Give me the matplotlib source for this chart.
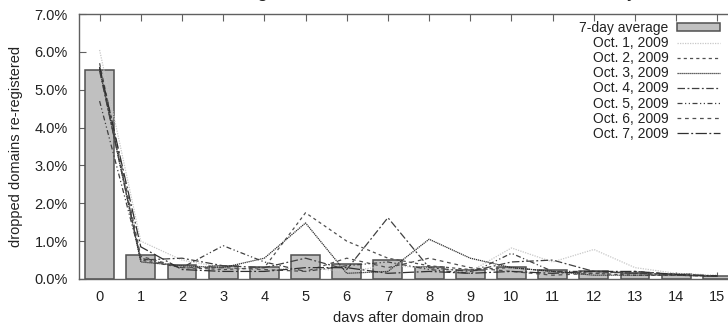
import numpy as np
import matplotlib.pyplot as plt
from matplotlib.ticker import FuncFormatter

plt.rcParams["font.family"] = ["Liberation Sans", "DejaVu Sans"]

# ------------------------------------------------------------
# DATA (percent of dropped domains re-registered, per day)
# ------------------------------------------------------------
days = list(range(16))
avg_7day = [5.53, 0.63, 0.36, 0.34, 0.31, 0.64, 0.40, 0.50,
            0.32, 0.24, 0.32, 0.24, 0.22, 0.17, 0.12, 0.08]

oct1 = [6.05, 1.00, 0.50, 0.30, 0.25, 0.30, 0.20, 0.35,
        0.30, 0.20, 0.82, 0.45, 0.78, 0.30, 0.15, 0.10]
oct2 = [5.60, 0.50, 0.30, 0.25, 0.30, 1.75, 1.00, 0.55,
        0.35, 0.25, 0.30, 0.20, 0.15, 0.10, 0.10, 0.08]
oct3 = [5.55, 0.45, 0.35, 0.30, 0.55, 1.48, 0.15, 0.20,
        1.05, 0.55, 0.30, 0.20, 0.10, 0.10, 0.10, 0.07]
oct4 = [5.50, 0.50, 0.55, 0.35, 0.30, 0.55, 0.25, 1.62,
        0.30, 0.20, 0.45, 0.50, 0.20, 0.15, 0.12, 0.08]
oct5 = [4.70, 0.55, 0.30, 0.88, 0.45, 0.20, 0.35, 0.45,
        0.25, 0.15, 0.68, 0.20, 0.20, 0.15, 0.10, 0.07]
oct6 = [5.70, 0.60, 0.30, 0.30, 0.25, 0.20, 0.55, 0.30,
        0.55, 0.30, 0.20, 0.10, 0.15, 0.20, 0.12, 0.08]
oct7 = [5.60, 0.85, 0.25, 0.20, 0.20, 0.30, 0.30, 0.15,
        0.20, 0.15, 0.20, 0.15, 0.20, 0.20, 0.12, 0.08]

series = [
    ("Oct. 1, 2009", oct1, "#c8c8c8", (0, (1, 1))),
    ("Oct. 2, 2009", oct2, "#505050", (0, (2.5, 2.5))),
    ("Oct. 3, 2009", oct3, "#303030", (0, (1, 0.6))),
    ("Oct. 4, 2009", oct4, "#404040", (0, (6, 2, 1.5, 2))),
    ("Oct. 5, 2009", oct5, "#404040", (0, (4, 2, 1, 2, 1, 2))),
    ("Oct. 6, 2009", oct6, "#505050", (0, (3, 3))),
    ("Oct. 7, 2009", oct7, "#303030", (0, (9, 2, 1.5, 2))),
]

# ------------------------------------------------------------
# FIGURE
# ------------------------------------------------------------
W, H = 728, 322
fig = plt.figure(figsize=(W / 100, H / 100), dpi=100)
ax = fig.add_axes([79 / W, (H - 279) / H, (738 - 79) / W, (279 - 14) / H])

bars = ax.bar(days, avg_7day, width=0.7, color="#c0c0c0", edgecolor="#505050",
              linewidth=1.1, label="7-day average", zorder=2)

handles = [bars]
for name, vals, col, ls in series:
    line, = ax.plot(days, vals, color=col, linestyle=ls, linewidth=0.9,
                    label=name, zorder=3)
    handles.append(line)

ax.set_xlim(-0.5, 15.5)
ax.set_ylim(0, 7)
ax.set_xticks(days)
ax.set_yticks(np.arange(0, 7.01, 1.0))
ax.yaxis.set_major_formatter(FuncFormatter(lambda v, _: f"{v:.1f}%"))

for side in ["left", "top", "bottom", "right"]:
    ax.spines[side].set_color("#606060")
    ax.spines[side].set_linewidth(1.0)

ax.tick_params(axis="both", direction="in", length=5, width=0.8,
               colors="#606060", labelcolor="#222222", labelsize=10.5,
               top=True, right=True)
ax.tick_params(axis="y", pad=8)
ax.tick_params(axis="x", pad=8)

ax.set_xlabel("days after domain drop", fontsize=10.5, color="#222222",
              labelpad=5)
ax.set_ylabel("dropped domains re-registered", fontsize=10.5,
              color="#222222", labelpad=8)

# Title sits mostly above the canvas, only descenders show
fig.text(207 / W, 1 + 2.5 / H, "Re-registration of domains, in the first fifteen days",
         ha="left", va="baseline", fontsize=14.4, color="#222222")

leg = ax.legend(handles=handles, loc="upper right",
                bbox_to_anchor=(720 / W, 1 - 21 / H),
                bbox_transform=fig.transFigure, frameon=False,
                markerfirst=False, fontsize=10, labelspacing=0.08,
                handlelength=3.1, handletextpad=0.6, borderpad=0,
                borderaxespad=0, handleheight=0.5)
for t in leg.get_texts():
    t.set_color("#222222")

fig.savefig("out.png", dpi=100)
